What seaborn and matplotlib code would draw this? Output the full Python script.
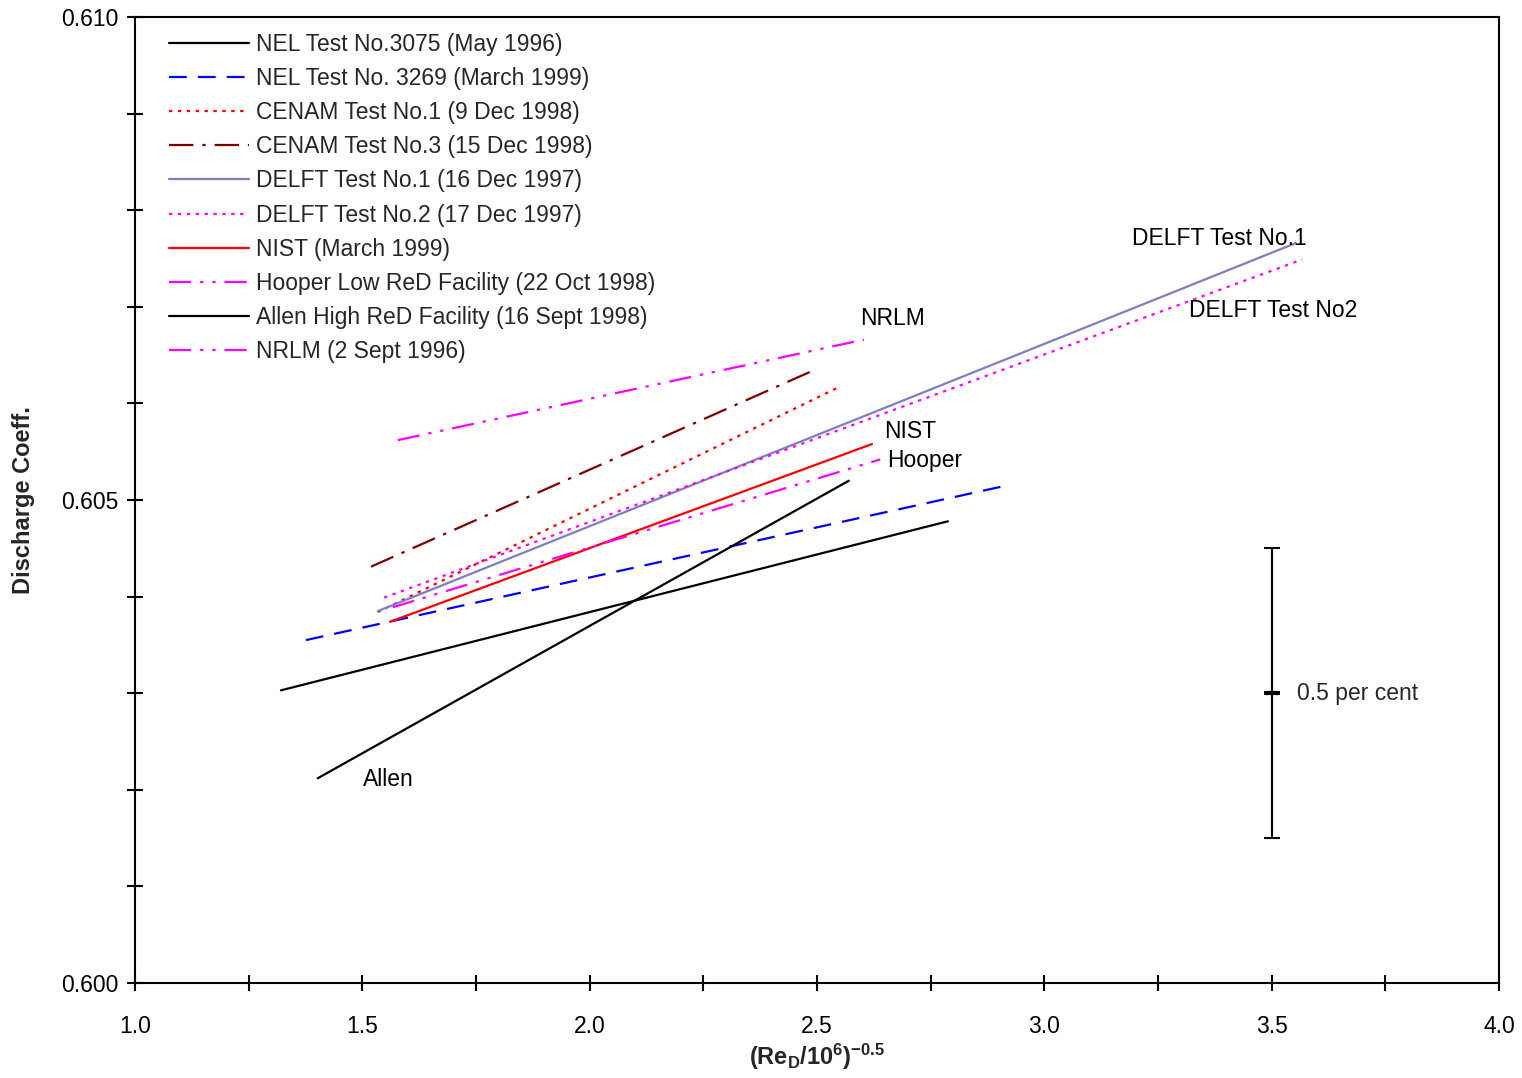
import matplotlib
matplotlib.use("Agg")
import matplotlib.pyplot as plt
import numpy as np
import pandas as pd
import seaborn as sns
from matplotlib.ticker import MultipleLocator, FormatStrFormatter

# straight-line fits: (Re_D/10^6)^-0.5 vs discharge coefficient
series = [
    "NEL Test No.3075 (May 1996)",
    "NEL Test No. 3269 (March 1999)",
    "CENAM Test No.1 (9 Dec 1998)",
    "CENAM Test No.3 (15 Dec 1998)",
    "DELFT Test No.1 (16 Dec 1997)",
    "DELFT Test No.2 (17 Dec 1997)",
    "NIST (March 1999)",
    "Hooper Low ReD Facility (22 Oct 1998)",
    "Allen High ReD Facility (16 Sept 1998)",
    "NRLM (2 Sept 1996)",
]
x_start = [1.321, 1.376, 1.534, 1.519, 1.534, 1.548, 1.561, 1.567, 1.402, 1.578]
x_end = [2.788, 2.907, 2.544, 2.496, 3.553, 3.567, 2.621, 2.639, 2.570, 2.603]
cd_start = [0.60303, 0.60355, 0.60384, 0.60431, 0.60385, 0.60399, 0.60374, 0.60389, 0.60212, 0.60562]
cd_end = [0.60478, 0.60514, 0.60616, 0.60635, 0.60766, 0.60749, 0.60558, 0.60542, 0.60520, 0.60666]

colors = ["black", "#0000FF", "#FF0000", "#800000", "#7F7FC0",
          "#FF00FF", "#FF0000", "#FF00FF", "black", "#FF00FF"]
styles = ["-", (0, (8, 5)), (0, (1.5, 2.5)), (0, (11, 4, 1.5, 4)), "-",
          (0, (1.5, 2.5)), "-", (0, (10, 4, 1.5, 4, 1.5, 4)), "-",
          (0, (10, 4, 1.5, 4, 1.5, 4))]

# text labels placed next to the lines
note_text = ["DELFT Test No.1", "DELFT Test No2", "NRLM", "NIST", "Hooper", "Allen"]
note_x = [3.193, 3.318, 2.595, 2.647, 2.654, 1.501]
note_y = [0.60771, 0.60696, 0.60688, 0.60571, 0.60541, 0.60211]

# 0.5 per cent scale bar
bar_x = 3.5
bar_centre = 0.603
bar_half = 0.0015

sns.set_theme(style="white")
plt.rcParams["font.family"] = ["Liberation Sans", "DejaVu Sans"]
plt.rcParams["mathtext.fontset"] = "custom"
plt.rcParams["mathtext.rm"] = "Liberation Sans"
plt.rcParams["mathtext.bf"] = "Liberation Sans:bold"

df = pd.DataFrame({
    "series": np.repeat(series, 2),
    "x": np.ravel(np.column_stack([x_start, x_end])),
    "cd": np.ravel(np.column_stack([cd_start, cd_end])),
})

fig = plt.figure(figsize=(15.22, 10.78), dpi=100)
ax = fig.add_axes([0.0887, 0.0881, 0.8962, 0.8961])

for name, col, ls in zip(series, colors, styles):
    sub = df[df["series"] == name]
    sns.lineplot(data=sub, x="x", y="cd", ax=ax, color=col, linestyle=ls,
                 linewidth=1.6, label=name, sort=False, estimator=None)

ax.errorbar([bar_x], [bar_centre], yerr=bar_half, color="black", lw=1.5,
            capsize=6, capthick=1.5)
ax.plot([bar_x], [bar_centre], marker="_", color="black", ms=12, mew=3)

for t, tx, ty in zip(note_text, note_x, note_y):
    ax.text(tx, ty, t, fontsize=16.5, va="center", ha="left", color="black")
ax.text(bar_x + 0.056, bar_centre, "0.5 per cent", fontsize=16.5, va="center", ha="left")

ax.set_xlim(1.0, 4.0)
ax.set_ylim(0.600, 0.610)
ax.xaxis.set_major_locator(MultipleLocator(0.5))
ax.xaxis.set_minor_locator(MultipleLocator(0.25))
ax.yaxis.set_major_locator(MultipleLocator(0.005))
ax.yaxis.set_minor_locator(MultipleLocator(0.001))
ax.xaxis.set_major_formatter(FormatStrFormatter("%.1f"))
ax.yaxis.set_major_formatter(FormatStrFormatter("%.3f"))
ax.tick_params(axis="both", which="both", direction="inout", length=12, width=1.5,
               color="black", labelsize=16.5, labelcolor="black", bottom=True, left=True)
ax.tick_params(axis="x", pad=17)
ax.tick_params(axis="y", pad=6)
for sp in ax.spines.values():
    sp.set_color("black")
    sp.set_linewidth(1.5)

ax.set_xlabel(r"$\mathbf{(Re_D/10^6)^{-0.5}}$", fontsize=17, labelpad=3)
ax.set_ylabel("Discharge Coeff.", fontsize=17, fontweight="bold", labelpad=19)

ax.legend(loc="upper left", bbox_to_anchor=(0.018, 0.993), frameon=False,
          fontsize=16.5, handlelength=3.5, handletextpad=0.3, labelspacing=0.485,
          borderaxespad=0.0)

fig.savefig("out.png", dpi=100, facecolor="white")
